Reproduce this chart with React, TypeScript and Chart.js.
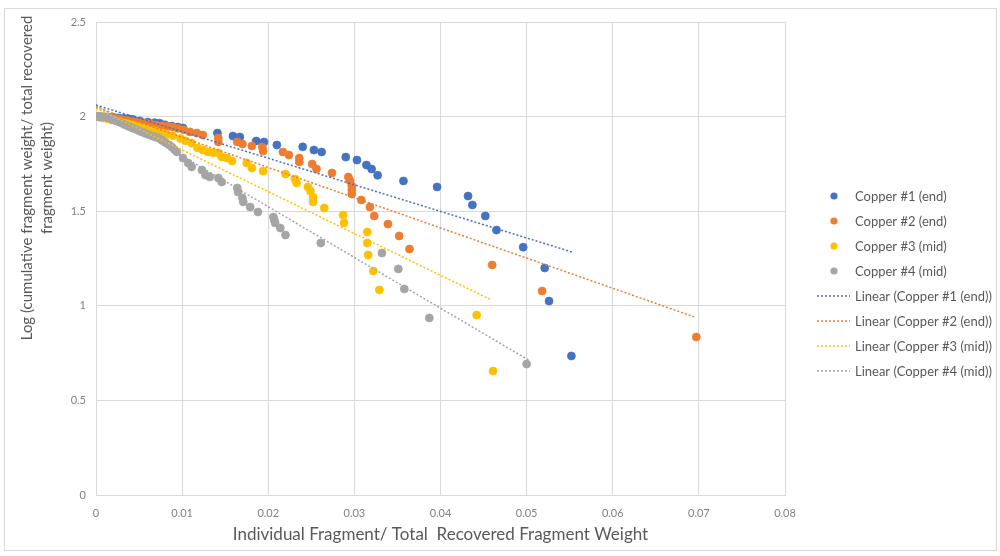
import { useEffect, useRef } from "react";
import { Chart, registerables } from "chart.js";

Chart.register(...registerables);

const xTickLabels = ["0", "0.01", "0.02", "0.03", "0.04", "0.05", "0.06", "0.07", "0.08"];
const yTickLabels = ["0", "0.5", "1", "1.5", "2", "2.5"];

const seriesNames = ["Copper #1 (end)", "Copper #2 (end)", "Copper #3 (mid)", "Copper #4 (mid)"];
const trendNames = [
  "Linear (Copper #1 (end))",
  "Linear (Copper #2 (end))",
  "Linear (Copper #3 (mid))",
  "Linear (Copper #4 (mid))",
];
const seriesColors = ["#4472C4", "#ED7D31", "#FFC000", "#A5A5A5"];

const xTitle = "Individual Fragment/ Total  Recovered Fragment Weight";
const yTitleLines = ["Log (cumulative fragment weight/ total recovered", "fragment weight)"];

// [x, y] pairs
const copper1: [number, number][] = [
  [0, 2.0], [0.0005, 1.999], [0.001, 1.998], [0.0015, 1.997], [0.002, 1.995], [0.0026, 1.993],
  [0.0032, 1.991], [0.0038, 1.988], [0.0043, 1.985], [0.0051, 1.977], [0.006, 1.971], [0.0068, 1.968],
  [0.0074, 1.965], [0.008, 1.956], [0.0088, 1.95], [0.0095, 1.945], [0.0101, 1.94], [0.0141, 1.913],
  [0.0159, 1.897], [0.0167, 1.892], [0.0186, 1.871], [0.0195, 1.866], [0.021, 1.85], [0.024, 1.84],
  [0.0253, 1.823], [0.0262, 1.813], [0.029, 1.786], [0.0303, 1.77], [0.0314, 1.744], [0.032, 1.723],
  [0.0327, 1.69], [0.0357, 1.66], [0.0396, 1.628], [0.0432, 1.58], [0.0437, 1.533], [0.0452, 1.475],
  [0.0465, 1.4], [0.0496, 1.31], [0.0521, 1.2], [0.0526, 1.025], [0.0552, 0.735],
];

const copper2: [number, number][] = [
  [0, 2.0], [0.0005, 1.998], [0.001, 1.996], [0.0015, 1.993], [0.002, 1.99], [0.0025, 1.987],
  [0.003, 1.984], [0.0036, 1.98], [0.0042, 1.976], [0.0048, 1.972], [0.0053, 1.968], [0.0059, 1.963],
  [0.0065, 1.958], [0.007, 1.955], [0.0077, 1.951], [0.0083, 1.948], [0.0089, 1.945], [0.0095, 1.938],
  [0.0102, 1.93], [0.0109, 1.919], [0.0117, 1.913], [0.0124, 1.903], [0.0142, 1.887], [0.0142, 1.866],
  [0.0164, 1.866], [0.017, 1.855], [0.0181, 1.845], [0.0193, 1.839], [0.0194, 1.818], [0.0217, 1.813],
  [0.0224, 1.797], [0.0236, 1.781], [0.0236, 1.76], [0.0251, 1.749], [0.0256, 1.723], [0.0274, 1.702],
  [0.0293, 1.681], [0.0295, 1.66], [0.0297, 1.633], [0.0297, 1.612], [0.0297, 1.591], [0.0308, 1.559],
  [0.0318, 1.522], [0.0323, 1.475], [0.0339, 1.432], [0.0352, 1.369], [0.0364, 1.3], [0.046, 1.216],
  [0.0518, 1.078], [0.0697, 0.835],
];

const copper3: [number, number][] = [
  [0, 2.0], [0.0004, 1.997], [0.0008, 1.993], [0.0013, 1.988], [0.0018, 1.983], [0.0023, 1.978],
  [0.0028, 1.972], [0.0033, 1.966], [0.0038, 1.961], [0.0043, 1.955], [0.0049, 1.948], [0.0055, 1.94],
  [0.006, 1.934], [0.0066, 1.927], [0.0071, 1.92], [0.0077, 1.913], [0.0082, 1.905], [0.0089, 1.899],
  [0.0098, 1.884], [0.0104, 1.872], [0.0111, 1.86], [0.0118, 1.834], [0.0124, 1.824], [0.013, 1.813],
  [0.0136, 1.81], [0.0142, 1.808], [0.0146, 1.787], [0.0152, 1.781], [0.0158, 1.765], [0.0175, 1.755],
  [0.0181, 1.728], [0.0194, 1.712], [0.022, 1.697], [0.0231, 1.67], [0.0233, 1.649], [0.0246, 1.628],
  [0.0249, 1.607], [0.0252, 1.575], [0.0252, 1.549], [0.0265, 1.517], [0.0287, 1.48], [0.0288, 1.438],
  [0.0315, 1.39], [0.0315, 1.332], [0.0316, 1.268], [0.0322, 1.184], [0.0329, 1.084], [0.0442, 0.951],
  [0.0461, 0.655],
];

const copper4: [number, number][] = [
  [0, 2.0], [0.0003, 2.0], [0.0006, 2.0], [0.0009, 1.999], [0.0012, 1.997], [0.0015, 1.993],
  [0.0019, 1.985], [0.0023, 1.978], [0.0027, 1.971], [0.0031, 1.963], [0.0034, 1.956], [0.0038, 1.948],
  [0.0042, 1.94], [0.0046, 1.933], [0.005, 1.925], [0.0053, 1.919], [0.0057, 1.912], [0.0061, 1.905],
  [0.0065, 1.898], [0.0069, 1.892], [0.0073, 1.886], [0.0077, 1.874], [0.0081, 1.862], [0.0085, 1.85],
  [0.0088, 1.839], [0.0091, 1.826], [0.0094, 1.813], [0.0101, 1.781], [0.0107, 1.755], [0.0111, 1.734],
  [0.0123, 1.718], [0.0127, 1.691], [0.0132, 1.681], [0.0142, 1.675], [0.0146, 1.654], [0.0164, 1.623],
  [0.0165, 1.601], [0.017, 1.57], [0.0171, 1.549], [0.0179, 1.522], [0.0188, 1.496], [0.0206, 1.469],
  [0.0207, 1.453], [0.0208, 1.438], [0.0214, 1.411], [0.022, 1.374], [0.0261, 1.332], [0.0332, 1.279],
  [0.0351, 1.195], [0.0358, 1.089], [0.0387, 0.936], [0.05, 0.692],
];

// Trendline end points
const trend1: [number, number][] = [[0, 2.061], [0.0553, 1.284]];
const trend2: [number, number][] = [[0, 2.05], [0.0695, 0.941]];
const trend3: [number, number][] = [[0, 2.045], [0.0459, 1.031]];
const trend4: [number, number][] = [[0, 2.06], [0.0502, 0.714]];

const FONT = "Lato, 'Open Sans', sans-serif";

export default function App() {
  const ref = useRef<HTMLCanvasElement>(null);

  useEffect(() => {
    if (!ref.current) return;
    const toPts = (a: [number, number][]) => a.map(([x, y]) => ({ x, y }));
    const series = [copper1, copper2, copper3, copper4];
    const trends = [trend1, trend2, trend3, trend4];

    const scatterSets = series.map((d, i) => ({
      type: "scatter" as const,
      label: seriesNames[i],
      data: toPts(d),
      backgroundColor: seriesColors[i],
      borderColor: seriesColors[i],
      pointRadius: 4,
      pointBorderWidth: 0.75,
      pointHoverRadius: 4,
      showLine: false,
      order: 10 - i,
    }));
    const trendSets = trends.map((d, i) => ({
      type: "scatter" as const,
      label: trendNames[i],
      data: toPts(d),
      borderColor: seriesColors[i],
      backgroundColor: seriesColors[i],
      borderWidth: 1.5,
      borderDash: [2, 2],
      pointRadius: 0,
      showLine: true,
      fill: false,
      order: 1,
    }));

    const legendPlugin = {
      id: "customLegend",
      afterDraw(chart: any) {
        const ctx = chart.ctx as CanvasRenderingContext2D;
        ctx.save();
        ctx.font = `13px ${FONT}`;
        ctx.fillStyle = "#595959";
        ctx.textBaseline = "middle";
        ctx.textAlign = "left";
        const top = 196;
        const step = 25;
        const names = [...seriesNames, ...trendNames];
        names.forEach((name, i) => {
          const y = top + i * step;
          const color = seriesColors[i % 4];
          if (i < 4) {
            ctx.beginPath();
            ctx.fillStyle = color;
            ctx.arc(834, y, 3.6, 0, Math.PI * 2);
            ctx.fill();
          } else {
            ctx.beginPath();
            ctx.strokeStyle = color;
            ctx.lineWidth = 1.5;
            ctx.setLineDash([2, 2]);
            ctx.moveTo(817, y);
            ctx.lineTo(850, y);
            ctx.stroke();
            ctx.setLineDash([]);
          }
          ctx.fillStyle = "#595959";
          ctx.fillText(name, 855, y + 1);
        });
        ctx.restore();
      },
    };

    const yTitlePlugin = {
      id: "yTitle",
      afterDraw(chart: any) {
        const ctx = chart.ctx as CanvasRenderingContext2D;
        ctx.save();
        ctx.font = `15px ${FONT}`;
        ctx.fillStyle = "#595959";
        ctx.textAlign = "center";
        ctx.textBaseline = "middle";
        ctx.translate(27, 178);
        ctx.rotate(-Math.PI / 2);
        yTitleLines.forEach((line, i) => ctx.fillText(line, 0, i * 20));
        ctx.restore();
      },
    };

    const chart = new Chart(ref.current, {
      type: "scatter",
      data: { datasets: [...trendSets, ...scatterSets] as any },
      options: {
        responsive: false,
        animation: false,
        devicePixelRatio: 1,
        layout: { padding: { left: 40, right: 215, top: 22, bottom: 0 } },
        plugins: {
          legend: { display: false },
          tooltip: { enabled: false },
        },
        scales: {
          x: {
            type: "linear",
            min: 0,
            max: 0.08,
            afterFit: (s: any) => {
              s.height = 61;
            },
            ticks: {
              stepSize: 0.01,
              autoSkip: false,
              maxRotation: 0,
              padding: 12,
              color: "#808080",
              font: { family: FONT, size: 11 },
              callback: (_v: any, i: number) => xTickLabels[i],
            },
            grid: { color: "#d9d9d9", drawTicks: false, lineWidth: 1 },
            border: { color: "#d9d9d9" },
            title: {
              display: true,
              text: xTitle,
              color: "#595959",
              font: { family: FONT, size: 17 },
              padding: { top: 4, bottom: 11 },
            },
          },
          y: {
            type: "linear",
            min: 0,
            max: 2.5,
            afterFit: (s: any) => {
              s.width = 56;
            },
            ticks: {
              stepSize: 0.5,
              padding: 10,
              color: "#808080",
              font: { family: FONT, size: 11 },
              callback: (_v: any, i: number) => yTickLabels[i],
            },
            grid: { color: "#d9d9d9", drawTicks: false, lineWidth: 1 },
            border: { color: "#d9d9d9" },
          },
        },
      },
      plugins: [legendPlugin, yTitlePlugin],
    });
    return () => chart.destroy();
  }, []);

  return (
    <div style={{ position: "fixed", left: 0, top: 0, width: 1000, height: 556, background: "#fff" }}>
      <canvas ref={ref} width={1000} height={556} style={{ display: "block" }} />
      <div
        style={{
          position: "absolute",
          left: 4,
          top: 8,
          width: 991,
          height: 541,
          border: "1px solid #d9d9d9",
          pointerEvents: "none",
        }}
      />
    </div>
  );
}
